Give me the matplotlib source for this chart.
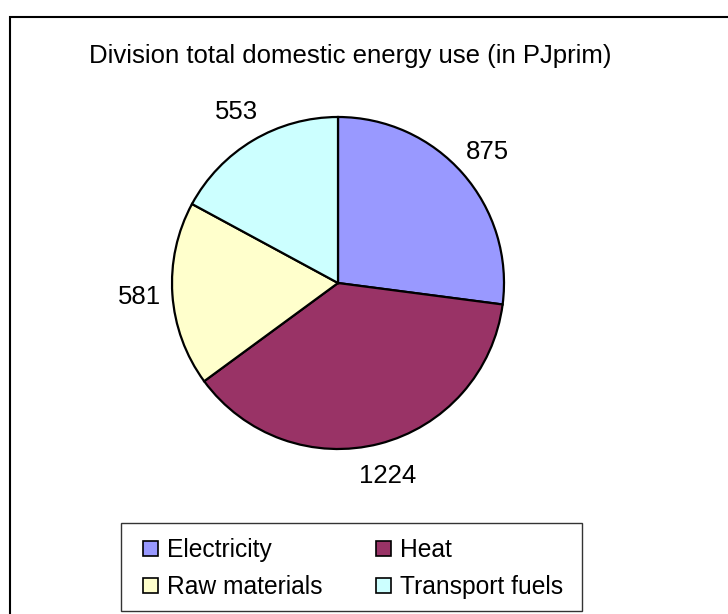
import matplotlib
matplotlib.use("Agg")
import matplotlib.pyplot as plt
import numpy as np
from matplotlib.patches import Rectangle, Patch

plt.rcParams['font.family'] = ['Liberation Sans', 'DejaVu Sans']

title = "Division total domestic energy use (in PJprim)"
categories = ["Electricity", "Heat", "Raw materials", "Transport fuels"]
values = [875, 1224, 581, 553]
colors = ["#9999FF", "#993366", "#FFFFCC", "#CCFFFF"]

W, H = 728, 614
fig = plt.figure(figsize=(W / 100, H / 100), dpi=100)

# outer frame (cropped at right/bottom)
fig.add_artist(Rectangle((10 / W, -10 / H), (W + 20) / W, (H - 17 + 10) / H,
                         transform=fig.transFigure, fill=False,
                         edgecolor="black", linewidth=1.5))

cx, cy, r = 338, 283, 166
ax = fig.add_axes([(cx - r) / W, (H - cy - r) / H, 2 * r / W, 2 * r / H])
wedges, _ = ax.pie(values, colors=colors, startangle=90, counterclock=False,
                   radius=1.0,
                   wedgeprops=dict(edgecolor="black", linewidth=1.6))
ax.set_xlim(-1, 1)
ax.set_ylim(-1, 1)
ax.set_aspect('equal')
ax.axis('off')

for w, v in zip(wedges, values):
    ang = np.deg2rad((w.theta1 + w.theta2) / 2)
    d = 1.2
    ax.text(d * np.cos(ang), d * np.sin(ang), str(v), ha='center', va='center',
            fontsize=18.5, clip_on=False)

fig.text(350 / W, 1 - 56 / H, title, ha='center', va='center', fontsize=18.5)

# legend frame
fig.add_artist(Rectangle((121 / W, (H - 611) / H), 461 / W, 88 / H,
                         transform=fig.transFigure, fill=False,
                         edgecolor="#333333", linewidth=1.0))

order = [0, 2, 1, 3]  # row-major display: Electricity, Heat / Raw materials, Transport fuels
handles = [Patch(facecolor=colors[i], edgecolor='black', linewidth=1.2) for i in order]
labels = [categories[i] for i in order]
leg = fig.legend(handles, labels, loc='center left',
                 bbox_to_anchor=(143 / W, (H - 568.5) / H),
                 ncol=2, borderaxespad=0, borderpad=0, fontsize=17.7,
                 handlelength=0.6, handleheight=0.6, handletextpad=0.37,
                 labelspacing=0.53, columnspacing=2.2, frameon=False)

fig.savefig("out.png", dpi=100)
